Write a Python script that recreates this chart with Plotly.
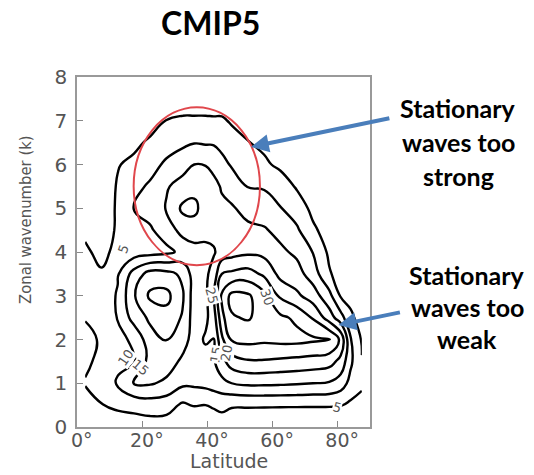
import plotly.graph_objects as go

# Latitude (deg) columns and zonal wavenumber rows of the stationary-wave field
lat = [2.5, 7.5, 12.5, 17.5, 22.5, 27.5, 32.5, 36, 39.5, 42, 44.5,
       47.5, 52.5, 57.5, 62.5, 67.5, 72.5, 77.5, 81, 84, 87.5]
wavenumber = [0, 0.5, 1, 1.5, 2, 2.5, 3, 3.5, 4, 4.5, 5, 5.5, 6, 6.5, 7, 7.5, 8]

# amplitude profiles along k, one list per latitude column
col_02 = [0.5, 3.0, 5.3, 4.2, 4.0, 5.2, 6.0, 6.3, 5.6, 4.3, 3.0, 2.2, 1.6, 1.0, 0.6, 0.3, 0.0]
col_07 = [1.5, 4.8, 7.5, 6.0, 5.4, 6.0, 6.8, 5.4, 4.0, 3.5, 3.2, 2.8, 2.2, 1.5, 1.0, 0.5, 0.0]
col_12 = [2.0, 6.0, 10.5, 9.0, 8.5, 10.3, 10.5, 9.5, 6.0, 5.4, 5.4, 5.3, 4.8, 3.6, 2.5, 1.5, 0.5]
col_17 = [2.5, 6.5, 15.5, 9.5, 11.0, 17.0, 19.5, 17.0, 7.5, 8.5, 10.3, 8.5, 5.8, 4.2, 2.8, 1.5, 0.5]
col_22 = [2.5, 7.5, 15.5, 17.0, 18.0, 21.0, 26.0, 22.0, 8.0, 9.5, 11.5, 10.8, 8.0, 5.6, 3.5, 2.0, 0.5]
col_27 = [2.5, 7.0, 14.0, 17.5, 20.2, 23.0, 26.5, 21.5, 9.0, 12.0, 15.5, 14.5, 11.0, 7.5, 5.1, 2.5, 0.8]
col_32 = [3.0, 4.2, 11.0, 14.0, 17.0, 19.5, 20.5, 19.0, 11.0, 17.0, 21.0, 17.0, 13.0, 9.0, 5.6, 3.0, 1.0]
col_36 = [3.0, 5.2, 11.0, 12.5, 13.0, 12.5, 12.5, 12.5, 12.5, 18.5, 20.8, 19.0, 15.0, 9.8, 5.6, 3.0, 1.0]
col_39 = [3.0, 5.0, 11.5, 13.0, 15.6, 14.0, 14.0, 14.0, 13.5, 16.8, 18.5, 18.0, 14.8, 9.5, 5.6, 3.0, 1.0]
col_42 = [3.0, 5.4, 12.5, 14.5, 14.8, 17.5, 19.5, 17.0, 14.5, 16.5, 17.5, 16.5, 13.5, 9.5, 5.5, 3.0, 1.0]
col_44 = [3.0, 6.0, 13.5, 18.5, 24.0, 28.5, 31.0, 25.0, 17.0, 16.5, 16.0, 14.5, 11.5, 8.5, 5.5, 3.0, 1.0]
col_47 = [3.0, 5.3, 15.0, 22.5, 30.5, 34.5, 36.5, 26.0, 18.0, 16.8, 15.5, 13.0, 9.5, 6.5, 4.6, 2.5, 0.8]
col_52 = [2.8, 5.3, 16.0, 24.5, 31.5, 35.5, 35.8, 27.0, 19.0, 16.0, 13.5, 9.8, 7.5, 5.2, 3.2, 1.8, 0.6]
col_57 = [2.5, 5.3, 16.0, 24.5, 31.0, 33.0, 31.5, 24.0, 18.5, 15.5, 12.5, 9.5, 5.8, 4.0, 2.5, 1.2, 0.4]
col_62 = [2.2, 5.3, 15.8, 24.0, 31.5, 31.0, 24.0, 18.5, 16.0, 13.5, 10.2, 7.5, 4.0, 2.8, 1.8, 1.0, 0.3]
col_67 = [2.0, 5.3, 15.5, 23.5, 31.5, 29.0, 21.0, 17.0, 14.0, 10.8, 7.5, 4.5, 2.8, 1.8, 1.2, 0.6, 0.2]
col_72 = [1.8, 5.3, 15.0, 23.0, 30.8, 24.5, 17.5, 12.5, 9.8, 5.8, 3.8, 2.8, 1.8, 1.2, 0.8, 0.4, 0.1]
col_77 = [1.5, 5.3, 14.5, 22.0, 30.3, 17.5, 11.5, 5.5, 4.0, 3.0, 2.2, 1.5, 1.0, 0.7, 0.4, 0.2, 0.0]
col_81 = [1.2, 5.2, 12.5, 18.5, 24.0, 12.0, 4.5, 3.0, 2.2, 1.6, 1.2, 0.9, 0.6, 0.4, 0.2, 0.1, 0.0]
col_84 = [1.0, 4.0, 8.5, 11.0, 10.5, 6.0, 3.5, 2.2, 1.5, 1.1, 0.8, 0.6, 0.4, 0.3, 0.2, 0.1, 0.0]
col_87 = [0.8, 3.5, 5.8, 5.2, 4.5, 3.0, 2.0, 1.4, 1.0, 0.7, 0.5, 0.4, 0.3, 0.2, 0.1, 0.0, 0.0]

columns = [col_02, col_07, col_12, col_17, col_22, col_27, col_32, col_36, col_39,
           col_42, col_44, col_47, col_52, col_57, col_62, col_67, col_72, col_77,
           col_81, col_84, col_87]
amplitude = [[col[i] for col in columns] for i in range(len(wavenumber))]

# inline contour labels: (text, latitude, wavenumber, rotation)
contour_labels = [
    ("5", 14.3, 4.05, -70),
    ("10", 15.0, 1.6, -55),
    ("15", 19.5, 1.35, 40),
    ("25", 41.3, 3.0, 75),
    ("15", 42.8, 1.65, -80),
    ("20", 46.0, 1.7, -80),
    ("30", 58.3, 2.95, 70),
    ("5", 80.0, 0.45, 15),
]

x_ticks = [0, 20, 40, 60, 80]
# an en space in front keeps the digits centred on the tick, the degree sign trailing
x_tick_text = ["\u2002%d°" % v for v in x_ticks]
y_ticks = [0, 1, 2, 3, 4, 5, 6, 7, 8]

W, H = 534, 475
ML, MR, MT, MB = 77, 164, 77, 48
pw, ph = W - ML - MR, H - MT - MB


def px_to_paper(x, y):
    return (x - ML) / pw, 1 - (y - MT) / ph


fig = go.Figure()
fig.add_trace(go.Contour(
    x=lat, y=wavenumber, z=amplitude,
    contours=dict(start=5, end=35, size=5, coloring="lines"),
    colorscale=[[0, "black"], [1, "black"]],
    line=dict(width=2.4, smoothing=1.3),
    showscale=False, hoverinfo="skip",
))

annotations = []
for text, x, y, ang in contour_labels:
    annotations.append(dict(
        x=x, y=y, xref="x", yref="y", text=text, showarrow=False,
        textangle=ang, bgcolor="white", borderpad=0,
        xanchor="center", yanchor="middle",
        font=dict(family="DejaVu Sans", size=13, color="#555555"),
    ))


def text_at(px, py, text, font, angle=0):
    x, y = px_to_paper(px, py)
    annotations.append(dict(x=x, y=y, xref="paper", yref="paper", text=text,
                            showarrow=False, xanchor="center", yanchor="middle",
                            textangle=angle, font=font))


# axis titles
text_at(229, 461, "Latitude", dict(family="DejaVu Sans", size=19, color="#555555"))
text_at(25, 220, "Zonal wavenumber (k)",
        dict(family="Liberation Sans Narrow, DejaVu Sans Condensed, sans-serif",
             size=16.5, color="#555555"), angle=-90)

# chart title
text_at(210, 23, "<b>CMIP5</b>", dict(family="Lato", size=32, color="black"))

# callout texts and arrows
blue = "#4a7ebb"
callout_font = dict(family="Lato", size=25, color="black")
for i, line in enumerate(["Stationary", "waves too", "strong"]):
    text_at(458, 108 + 34 * i, "<b>%s</b>" % line, callout_font)
for i, line in enumerate(["Stationary", "waves too", "weak"]):
    text_at(467, 275 + 32 * i, "<b>%s</b>" % line, callout_font)

annotations.append(dict(
    x=53.4, y=6.4, xref="x", yref="y", ax=140, ay=-29, axref="pixel", ayref="pixel",
    showarrow=True, arrowhead=2, arrowsize=0.9, arrowwidth=4, arrowcolor=blue, text="",
))
annotations.append(dict(
    x=80.3, y=2.33, xref="x", yref="y", ax=63, ay=-13, axref="pixel", ayref="pixel",
    showarrow=True, arrowhead=2, arrowsize=0.9, arrowwidth=4, arrowcolor=blue, text="",
))

fig.update_layout(
    width=W, height=H,
    margin=dict(l=ML, r=MR, t=MT, b=MB),
    paper_bgcolor="white", plot_bgcolor="white",
    showlegend=False,
    annotations=annotations,
    shapes=[dict(type="circle", xref="x", yref="y", x0=17.4, x1=56.2, y0=3.7, y1=7.31,
                 line=dict(color="#e0474c", width=2))],
    xaxis=dict(range=[0, 90], tickvals=x_ticks, ticktext=x_tick_text,
               ticks="inside", ticklen=6, tickcolor="#888888",
               showline=True, mirror=True, linecolor="#999999", linewidth=1.5,
               showgrid=False, zeroline=False, ticklabelstandoff=-5,
               tickfont=dict(family="DejaVu Sans", size=19, color="#555555")),
    yaxis=dict(range=[0, 8], tickvals=y_ticks,
               ticks="inside", ticklen=6, tickcolor="#888888",
               showline=True, mirror=True, linecolor="#999999", linewidth=1.5,
               showgrid=False, zeroline=False, ticklabelstandoff=4,
               tickfont=dict(family="DejaVu Sans", size=20, color="#555555")),
)

fig.write_html("out.html")
